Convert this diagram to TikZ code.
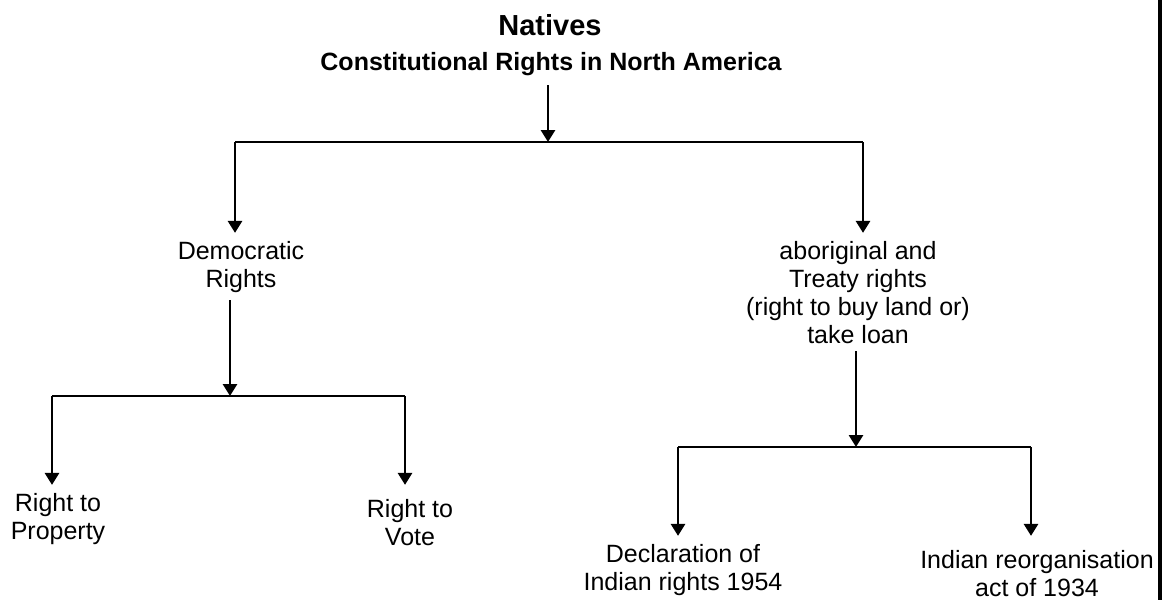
\documentclass[tikz,border=0pt]{standalone}
\usepackage{fontspec}
\setmainfont{Liberation Sans}
\usetikzlibrary{arrows.meta}

\tikzset{
  >={Triangle[width=14pt,length=12pt]},
  head/.style={anchor=base,inner sep=0pt,font=\bfseries\fontsize{29}{33}\selectfont},
  subhead/.style={anchor=base,inner sep=0pt,outer sep=10pt,font=\bfseries\fontsize{25}{29}\selectfont},
  item/.style={anchor=base,align=center,inner sep=0pt,outer sep=8pt,font=\fontsize{25}{28}\selectfont}
}

\begin{document}
\begin{tikzpicture}[x=1pt,y=-1pt,line width=2.8pt]
\useasboundingbox (0,0) rectangle (1162,600);
\node (nat) at (550,35) [head] {Natives};
\node (sub) at (551,70) [subhead] {Constitutional Rights in North America};
\node (dem) at (241,287) [item] {Democratic\\Rights};
\node (abo) at (858,343) [item] {aboriginal and\\Treaty rights\\(right to buy land or)\\take loan};
\node (prop) at (58,539) [item] {Right to\\Property};
\node (vote) at (410,545) [item] {Right to\\Vote};
\node (decl) at (683,590) [item] {Declaration of\\Indian rights 1954};
\node (reorg) at (1037,596) [item] {Indian reorganisation\\act of 1934};

% branch points
\coordinate (b0) at (548,142);
\coordinate (b0l) at (235,142);
\coordinate (b0r) at (863,142);
\coordinate (b1) at (230,396);
\coordinate (b1l) at (52,396);
\coordinate (b1r) at (405,396);
\coordinate (b2) at (856,447);
\coordinate (b2l) at (678,447);
\coordinate (b2r) at (1031,447);

\draw [->] (b0 |- sub.south) -- (b0);
\draw (b0l) -- (b0r);
\draw [->] (b0l) -- (b0l |- dem.north);
\draw [->] (b0r) -- (b0r |- dem.north);

\draw [->] (b1 |- dem.south) -- (b1);
\draw (b1l) -- (b1r);
\draw [->] (b1l) -- (b1l |- prop.north);
\draw [->] (b1r) -- (b1r |- prop.north);

\draw [->] (b2 |- abo.south) -- (b2);
\draw (b2l) -- (b2r);
\draw [->] (b2l) -- (b2l |- decl.north);
\draw [->] (b2r) -- (b2r |- decl.north);

% right edge
\fill (1157.5,0) rectangle (1162,600);
\end{tikzpicture}
\end{document}
